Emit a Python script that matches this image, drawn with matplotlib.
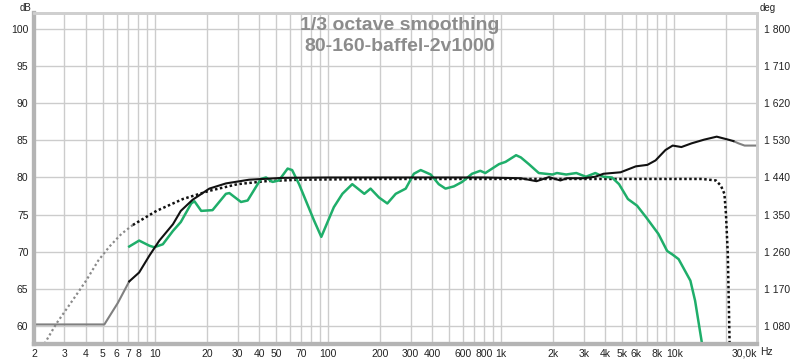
import numpy as np
import matplotlib.pyplot as plt
from matplotlib.ticker import FixedLocator, NullLocator

plt.rcParams['font.family'] = ['Liberation Sans', 'DejaVu Sans']

# measured response (black), gray = extrapolated ends
meas_lo_f = [2, 5.1, 6.1, 7.1]
meas_lo_db = [60.2, 60.2, 63.1, 66.0]
meas_f = [7.1, 8.1, 9.3, 10.6, 12.7, 14.1, 16.5, 20.6, 25.7, 35, 54.6, 100, 300,
          800, 1300, 1600, 1890, 2200, 2400, 3000, 3500, 3900, 4900, 6000, 7000,
          7800, 8900, 9800, 11000, 12600, 14900, 17600, 20500, 22000]
meas_db = [66.0, 67.2, 69.5, 71.5, 73.7, 75.5, 77.0, 78.5, 79.2, 79.7, 79.95, 80.0, 80.0,
           80.0, 79.9, 79.5, 80.05, 79.6, 79.9, 79.9, 80.1, 80.5, 80.7, 81.5, 81.7,
           82.3, 83.7, 84.3, 84.1, 84.6, 85.1, 85.5, 85.1, 84.9]
meas_hi_f = [22000, 23500, 25500, 30000]
meas_hi_db = [84.9, 84.6, 84.3, 84.3]

# target curve (dotted)
tgt_lo_f = [2.3, 2.69, 3.4, 4.0, 4.7, 5.46, 6.4, 7.45]
tgt_lo_db = [57.6, 60.3, 63.7, 66.1, 68.8, 70.7, 72.4, 73.6]
tgt_f = [7.45, 10.2, 14.5, 20.6, 30, 43.8, 68, 200, 1000, 5000, 10000, 14500,
         17400, 18600, 19500, 19900, 20400, 20900]
tgt_db = [73.6, 75.5, 77.1, 78.2, 79.1, 79.5, 79.7, 79.8, 79.8, 79.8, 79.8, 79.8,
          79.6, 78.9, 77.8, 75.1, 69.7, 57.5]

# corrected / predicted response (green)
grn_f = [7.1, 8.1, 9.3, 9.9, 11.1, 12.7, 14.1, 16.2, 16.9, 18.5, 21.5, 25.7, 26.9,
         31.4, 34.3, 40.9, 43.8, 47.8, 52, 58.4, 62, 68, 83, 91.4, 108, 121, 138,
         162, 176, 197, 220, 246, 281, 313, 343, 392, 436, 477, 533, 595, 679, 758,
         810, 972, 1060, 1220, 1300, 1445, 1650, 1980, 2100, 2375, 2720, 3090,
         3500, 3900, 4370, 4800, 5400, 6100, 6900, 8100, 9100, 9800, 10600, 12400,
         13200, 14500]
grn_db = [70.7, 71.5, 70.8, 70.6, 71.0, 72.8, 74.0, 76.5, 76.8, 75.5, 75.6, 77.8, 77.9,
          76.7, 76.9, 79.8, 80.0, 79.4, 79.6, 81.2, 81.0, 79.1, 74.2, 72.0, 76.0, 77.8, 79.1,
          77.8, 78.5, 77.3, 76.5, 77.8, 78.5, 80.5, 81.0, 80.4, 79.1, 78.5, 78.8, 79.4, 80.5, 80.9,
          80.6, 81.8, 82.1, 83.0, 82.7, 81.8, 80.6, 80.4, 80.6, 80.4, 80.6, 80.1,
          80.6, 80.1, 80.0, 79.1, 77.1, 76.2, 74.6, 72.4, 70.1, 69.6, 69.0, 66.1,
          63.4, 57.5]

xticks = [2, 3, 4, 5, 6, 7, 8, 10, 20, 30, 40, 50, 70, 100, 200, 300, 400, 600, 800,
          1000, 2000, 3000, 4000, 5000, 6000, 8000, 10000, 30000]
xlabels = ['2', '3', '4', '5', '6', '7', '8', '10', '20', '30', '40', '50', '70', '100',
           '200', '300', '400', '600', '800', '1k', '2k', '3k', '4k', '5k', '6k', '8k',
           '10k', '30,0k']
yticks = [60, 65, 70, 75, 80, 85, 90, 95, 100]
deg_labels = ['1 080', '1 170', '1 260', '1 350', '1 440', '1 530', '1 620', '1 710', '1 800']

fig = plt.figure(figsize=(8, 3.63), dpi=100)
ax = fig.add_axes([0.0425, 0.052, 0.9035, 0.912])
ax.set_xscale('log')
ax.set_xlim(2, 30000)
ax.set_ylim(57.55, 102.15)

# grid
gridf = []
for d in [1, 10, 100, 1000, 10000]:
    for m in range(1, 10):
        v = m * d
        if 2 < v < 30000:
            gridf.append(v)
for v in gridf:
    ax.axvline(v, color='#cccccc', lw=1, zorder=1)
for v in yticks:
    ax.axhline(v, color='#cccccc', lw=1, zorder=1)

ax.plot(tgt_lo_f, tgt_lo_db, color='#8a8a8a', lw=1.6, ls=(0, (1, 1.2)), zorder=3)
ax.plot(tgt_f, tgt_db, color='#111111', lw=1.8, ls=(0, (1, 1)), zorder=3)
ax.plot(grn_f, grn_db, color='#1fae6a', lw=1.8, zorder=4)
ax.plot(meas_lo_f, meas_lo_db, color='#808080', lw=1.5, zorder=5)
ax.plot(meas_hi_f, meas_hi_db, color='#808080', lw=1.5, zorder=5)
ax.plot(meas_f, meas_db, color='#111111', lw=1.5, zorder=5)

ax.xaxis.set_major_locator(FixedLocator(xticks))
ax.xaxis.set_minor_locator(NullLocator())
ax.set_xticklabels(xlabels)
ax.set_yticks(yticks)
ax.set_yticklabels([str(v) for v in yticks])
ax.tick_params(axis='both', length=0, labelsize=7.5, colors='#222222')
ax.tick_params(axis='x', pad=3.5)
ax.tick_params(axis='y', pad=4)
ax.get_xticklabels()[-1].set_ha('right')

ax2 = ax.twinx()
ax2.set_ylim(ax.get_ylim())
ax2.set_yticks(yticks)
ax2.set_yticklabels(deg_labels)
ax2.tick_params(axis='y', length=0, labelsize=7.5, colors='#222222', pad=5)

for a in (ax, ax2):
    for s in ['left', 'bottom']:
        a.spines[s].set_color('#b4b4b4')
        a.spines[s].set_linewidth(3)
    for s in ['top', 'right']:
        a.spines[s].set_color('#cfcfcf')
        a.spines[s].set_linewidth(2)

fig.text(0.032, 0.977, 'dB', fontsize=7, color='#222222', ha='center', va='center')
fig.text(0.96, 0.977, 'deg', fontsize=7, color='#222222', ha='center', va='center')
fig.text(0.958, 0.030, 'Hz', fontsize=7.5, color='#222222', ha='center', va='center')

fig.text(0.5, 0.93, '1/3 octave smoothing', fontsize=14, fontweight='bold',
         color='#8c8c8c', ha='center', va='center')
fig.text(0.5, 0.872, '80-160-baffel-2v1000', fontsize=14, fontweight='bold',
         color='#8c8c8c', ha='center', va='center')

fig.savefig('out.png', dpi=100)
